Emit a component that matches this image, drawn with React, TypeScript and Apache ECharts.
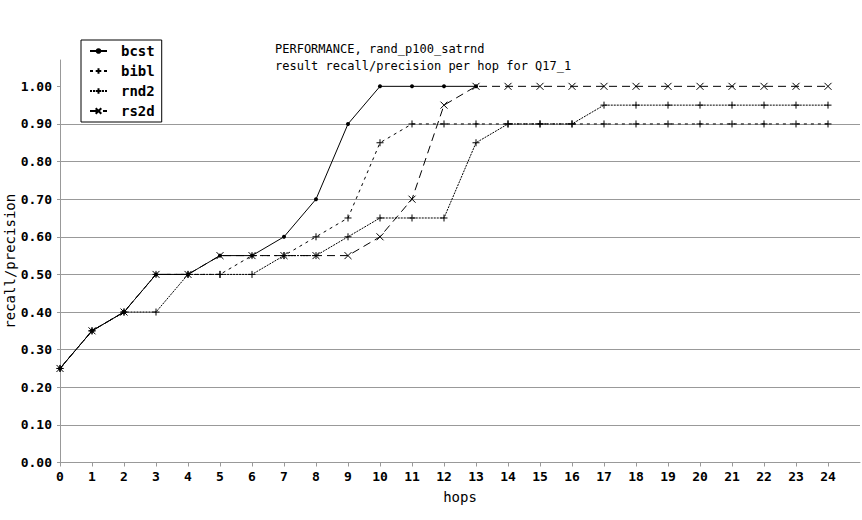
import React, { useEffect, useRef } from "react";
import * as echarts from "echarts";

const hops = [0, 1, 2, 3, 4, 5, 6, 7, 8, 9, 10, 11, 12, 13, 14, 15, 16, 17, 18, 19, 20, 21, 22, 23, 24];
const yTicks = [0, 0.1, 0.2, 0.3, 0.4, 0.5, 0.6, 0.7, 0.8, 0.9, 1.0];

const bcst = [0.25, 0.35, 0.4, 0.5, 0.5, 0.55, 0.55, 0.6, 0.7, 0.9, 1.0, 1.0, 1.0, 1.0];
const bibl = [0.25, 0.35, 0.4, 0.5, 0.5, 0.5, 0.55, 0.55, 0.6, 0.65, 0.85, 0.9, 0.9, 0.9, 0.9, 0.9, 0.9, 0.9, 0.9, 0.9, 0.9, 0.9, 0.9, 0.9, 0.9];
const rnd2 = [0.25, 0.35, 0.4, 0.4, 0.5, 0.5, 0.5, 0.55, 0.55, 0.6, 0.65, 0.65, 0.65, 0.85, 0.9, 0.9, 0.9, 0.95, 0.95, 0.95, 0.95, 0.95, 0.95, 0.95, 0.95];
const rs2d = [0.25, 0.35, 0.4, 0.5, 0.5, 0.55, 0.55, 0.55, 0.55, 0.55, 0.6, 0.7, 0.95, 1.0, 1.0, 1.0, 1.0, 1.0, 1.0, 1.0, 1.0, 1.0, 1.0, 1.0, 1.0];

const titleLines = ["PERFORMANCE, rand_p100_satrnd", "result recall/precision per hop for Q17_1"];

const MONO = "'DejaVu Sans Mono', 'Liberation Mono', monospace";
const PLUS = "path://M5,0L5,10M0,5L10,5";
const CROSS = "path://M0,0L10,10M10,0L0,10";

function pairs(vals: number[]) {
  return vals.map((v, i) => [hops[i], v]);
}

export default function App() {
  const ref = useRef<HTMLDivElement>(null);
  useEffect(() => {
    if (!ref.current) return;
    const chart = echarts.init(ref.current, null, { renderer: "svg" });
    const mk = (name: string, vals: number[], symbol: string, size: number, dash: any) => ({
      name,
      type: "line",
      data: pairs(vals),
      symbol,
      symbolSize: size,
      showSymbol: true,
      lineStyle: { color: "#000", width: 1, type: dash },
      itemStyle: { color: "#000", borderColor: "#000", borderWidth: symbol === "circle" ? 0 : 1 },
      emphasis: { disabled: true },
    });
    chart.setOption({
      animation: false,
      backgroundColor: "#fff",
      title: {
        text: titleLines.join("\n"),
        left: 275,
        top: 40,
        padding: 0,
        textStyle: { fontFamily: MONO, fontSize: 12, fontWeight: "normal", color: "#000", lineHeight: 17 },
      },
      legend: {
        orient: "vertical",
        left: 81,
        top: 40,
        padding: [4, 7, 4, 8],
        itemWidth: 17,
        itemHeight: 7,
        itemGap: 6,
        borderColor: "#000",
        borderWidth: 1,
        borderRadius: 0,
        backgroundColor: "#fff",
        textStyle: { fontFamily: MONO, fontSize: 14, fontWeight: "bold", color: "#000", lineHeight: 14, padding: [0, 0, 0, 9] },
        data: ["bcst", "bibl", "rnd2", "rs2d"],
      },
      grid: { left: 60, right: 2, top: 60, bottom: 57.5, containLabel: false, outerBoundsMode: "none" },
      xAxis: {
        type: "value",
        min: 0,
        max: 25,
        interval: 1,
        name: "hops",
        nameLocation: "middle",
        nameGap: 27,
        nameMoveOverlap: false,
        nameTextStyle: { fontFamily: MONO, fontSize: 14, color: "#000" },
        axisLine: { lineStyle: { color: "#999" } },
        axisTick: { show: true, length: 4, lineStyle: { color: "#999" } },
        axisLabel: { fontFamily: MONO, fontSize: 13, fontWeight: "bold", color: "#000", margin: 7, showMaxLabel: false },
        splitLine: { show: false },
      },
      yAxis: {
        type: "value",
        min: 0,
        max: 1.07,
        interval: 0.1,
        name: "recall/precision",
        nameLocation: "middle",
        nameGap: 43,
        nameMoveOverlap: false,
        nameTextStyle: { fontFamily: MONO, fontSize: 14, color: "#000" },
        axisLine: { show: true, lineStyle: { color: "#999" } },
        axisTick: { show: true, length: 3, lineStyle: { color: "#999" }, customValues: yTicks },
        axisLabel: {
          fontFamily: MONO,
          fontSize: 13,
          fontWeight: "bold",
          color: "#000",
          margin: 8,
          showMaxLabel: false,
          formatter: (v: number) => v.toFixed(2),
        },
        splitLine: { show: true, showMaxLine: false, lineStyle: { color: "#999", width: 1 } },
      },
      series: [
        mk("rs2d", rs2d, CROSS, 7, [8, 5]),
        mk("rnd2", rnd2, PLUS, 7, [2, 1]),
        mk("bibl", bibl, PLUS, 7, [3, 4]),
        mk("bcst", bcst, "circle", 4, "solid"),
      ],
    });
    return () => chart.dispose();
  }, []);
  return <div ref={ref} style={{ position: "fixed", left: 0, top: 0, width: 862, height: 520, background: "#fff" }} />;
}
